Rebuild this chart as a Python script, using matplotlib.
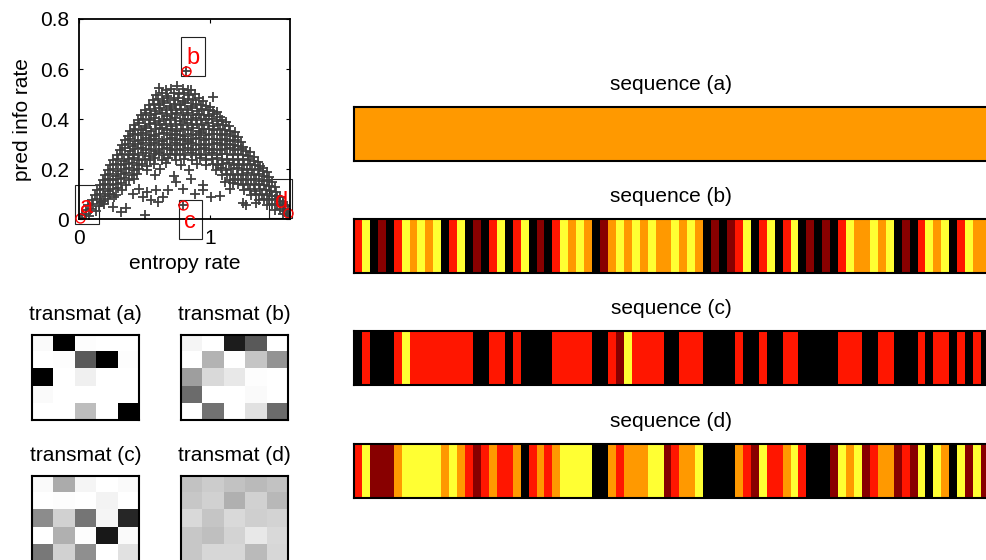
import matplotlib
matplotlib.use("Agg")
import matplotlib.pyplot as plt
import numpy as np
from matplotlib.colors import ListedColormap
from matplotlib.patches import Rectangle

plt.rcParams["font.family"] = ["Liberation Sans", "DejaVu Sans"]
plt.rcParams["font.size"] = 15

# --- scatter: (entropy rate, pred info rate) of sampled transition matrices
cloud = [
    (0.61, 0.524), (0.66, 0.515), (0.70, 0.522), (0.75, 0.531), (0.79, 0.519), (0.83, 0.515), (0.855, 0.517),
    (0.59, 0.497), (0.63, 0.503), (0.67, 0.494), (0.72, 0.506), (0.76, 0.499), (0.80, 0.505), (0.84, 0.497),
    (0.88, 0.501), (1.02, 0.49),
    (0.56, 0.476), (0.60, 0.482), (0.64, 0.473), (0.68, 0.484), (0.72, 0.478), (0.755, 0.485), (0.79, 0.474),
    (0.83, 0.481), (0.87, 0.477), (0.91, 0.483), (0.945, 0.474),
    (0.53, 0.455), (0.57, 0.462), (0.61, 0.457), (0.65, 0.465), (0.69, 0.452), (0.73, 0.461), (0.77, 0.456),
    (0.81, 0.463), (0.85, 0.454), (0.89, 0.46), (0.93, 0.457), (0.97, 0.452), (1.0, 0.448),
    (0.50, 0.436), (0.54, 0.442), (0.58, 0.433), (0.62, 0.444), (0.66, 0.437), (0.70, 0.443), (0.74, 0.435),
    (0.78, 0.441), (0.82, 0.438), (0.86, 0.445), (0.90, 0.434), (0.94, 0.44), (0.98, 0.436), (1.02, 0.432),
    (1.05, 0.428),
    (0.47, 0.418), (0.51, 0.424), (0.55, 0.415), (0.59, 0.421), (0.63, 0.426), (0.67, 0.414), (0.71, 0.42),
    (0.75, 0.425), (0.79, 0.417), (0.83, 0.423), (0.87, 0.416), (0.91, 0.422), (0.95, 0.418), (0.99, 0.414),
    (1.03, 0.42), (1.07, 0.41),
    (0.45, 0.395), (0.49, 0.402), (0.53, 0.398), (0.57, 0.404), (0.61, 0.393), (0.65, 0.401), (0.69, 0.396),
    (0.73, 0.403), (0.77, 0.394), (0.81, 0.4), (0.85, 0.397), (0.89, 0.404), (0.93, 0.395), (0.97, 0.399),
    (1.01, 0.402), (1.05, 0.393), (1.09, 0.398), (1.12, 0.39),
    (0.42, 0.376), (0.46, 0.383), (0.50, 0.374), (0.54, 0.38), (0.58, 0.385), (0.62, 0.377), (0.66, 0.382),
    (0.70, 0.373), (0.74, 0.381), (0.78, 0.378), (0.82, 0.384), (0.86, 0.375), (0.90, 0.38), (0.94, 0.377),
    (0.98, 0.383), (1.02, 0.374), (1.06, 0.38), (1.10, 0.376), (1.14, 0.372),
    (0.39, 0.354), (0.43, 0.361), (0.47, 0.357), (0.51, 0.363), (0.55, 0.352), (0.59, 0.359), (0.63, 0.365),
    (0.67, 0.356), (0.71, 0.362), (0.75, 0.353), (0.79, 0.36), (0.83, 0.357), (0.87, 0.363), (0.91, 0.354),
    (0.95, 0.359), (0.99, 0.362), (1.03, 0.355), (1.07, 0.36), (1.11, 0.357), (1.15, 0.352), (1.19, 0.35),
    (0.37, 0.334), (0.41, 0.341), (0.45, 0.336), (0.49, 0.343), (0.53, 0.337), (0.57, 0.332), (0.61, 0.34),
    (0.65, 0.345), (0.69, 0.335), (0.73, 0.342), (0.77, 0.338), (0.81, 0.333), (0.85, 0.341), (0.89, 0.337),
    (0.93, 0.344), (0.97, 0.335), (1.01, 0.339), (1.05, 0.342), (1.09, 0.336), (1.13, 0.34), (1.17, 0.334),
    (1.21, 0.33),
    (0.35, 0.315), (0.39, 0.321), (0.43, 0.312), (0.47, 0.318), (0.51, 0.324), (0.55, 0.316), (0.59, 0.322),
    (0.63, 0.313), (0.67, 0.319), (0.71, 0.325), (0.75, 0.317), (0.79, 0.321), (0.83, 0.314), (0.87, 0.32),
    (0.91, 0.323), (0.95, 0.315), (0.99, 0.319), (1.03, 0.322), (1.07, 0.316), (1.11, 0.32), (1.15, 0.314),
    (1.19, 0.318), (1.23, 0.31),
    (0.33, 0.296), (0.37, 0.302), (0.41, 0.294), (0.45, 0.3), (0.49, 0.305), (0.53, 0.297), (0.57, 0.303),
    (0.61, 0.295), (0.65, 0.301), (0.69, 0.298), (0.73, 0.304), (0.77, 0.296), (0.81, 0.3), (0.85, 0.306),
    (0.89, 0.297), (0.93, 0.302), (0.97, 0.295), (1.01, 0.299), (1.05, 0.303), (1.09, 0.296), (1.13, 0.301),
    (1.17, 0.297), (1.21, 0.294), (1.25, 0.29),
    (0.31, 0.276), (0.35, 0.283), (0.39, 0.274), (0.43, 0.28), (0.47, 0.285), (0.51, 0.277), (0.55, 0.282),
    (0.59, 0.274), (0.63, 0.279), (0.67, 0.284), (0.71, 0.276), (0.75, 0.281), (0.79, 0.277), (0.83, 0.283),
    (0.87, 0.275), (0.91, 0.28), (0.95, 0.284), (0.99, 0.277), (1.03, 0.281), (1.07, 0.275), (1.11, 0.279),
    (1.15, 0.283), (1.19, 0.276), (1.23, 0.28), (1.27, 0.274), (1.30, 0.27),
    (0.29, 0.256), (0.33, 0.262), (0.37, 0.255), (0.41, 0.261), (0.45, 0.257), (0.49, 0.263), (0.53, 0.254),
    (0.57, 0.26), (0.61, 0.265), (0.65, 0.257), (0.69, 0.261), (0.73, 0.255), (0.77, 0.262), (0.81, 0.258),
    (0.85, 0.264), (0.89, 0.256), (0.93, 0.26), (0.97, 0.257), (1.01, 0.263), (1.05, 0.255), (1.09, 0.259),
    (1.13, 0.262), (1.17, 0.256), (1.21, 0.26), (1.25, 0.257), (1.29, 0.253), (1.33, 0.25),
    (0.26, 0.236), (0.30, 0.242), (0.34, 0.234), (0.38, 0.24), (0.42, 0.245), (0.46, 0.237), (0.50, 0.241),
    (0.54, 0.235), (0.58, 0.243), (0.63, 0.238), (0.68, 0.244), (0.74, 0.236), (0.80, 0.241), (0.86, 0.237),
    (0.92, 0.243), (0.97, 0.235), (1.01, 0.24), (1.05, 0.244), (1.09, 0.236), (1.13, 0.241), (1.17, 0.238),
    (1.21, 0.242), (1.25, 0.235), (1.29, 0.239), (1.33, 0.234), (1.36, 0.23),
    (0.24, 0.216), (0.28, 0.222), (0.32, 0.215), (0.36, 0.221), (0.40, 0.225), (0.44, 0.217), (0.48, 0.222),
    (0.52, 0.214), (0.57, 0.219), (0.66, 0.224), (0.78, 0.216), (0.90, 0.221), (0.97, 0.217), (1.02, 0.222),
    (1.06, 0.215), (1.10, 0.22), (1.14, 0.224), (1.18, 0.216), (1.22, 0.221), (1.26, 0.217), (1.30, 0.222),
    (1.34, 0.215), (1.38, 0.212), (1.40, 0.205),
    (0.22, 0.196), (0.26, 0.202), (0.30, 0.194), (0.34, 0.2), (0.38, 0.205), (0.42, 0.197), (0.46, 0.202),
    (0.52, 0.195), (0.62, 0.2), (0.84, 0.196), (1.04, 0.198), (1.08, 0.203), (1.12, 0.195), (1.16, 0.2),
    (1.20, 0.204), (1.24, 0.196), (1.28, 0.201), (1.32, 0.197), (1.36, 0.2), (1.40, 0.194), (1.43, 0.19),
    (0.20, 0.176), (0.24, 0.182), (0.28, 0.174), (0.32, 0.18), (0.36, 0.185), (0.40, 0.177), (0.44, 0.181),
    (0.58, 0.178), (0.72, 0.172), (1.09, 0.176), (1.13, 0.182), (1.17, 0.175), (1.21, 0.18), (1.25, 0.177),
    (1.29, 0.183), (1.33, 0.176), (1.37, 0.181), (1.41, 0.174), (1.45, 0.17),
    (0.18, 0.156), (0.22, 0.162), (0.26, 0.155), (0.30, 0.16), (0.34, 0.164), (0.38, 0.157), (0.42, 0.16),
    (0.855, 0.16), (1.11, 0.15), (1.15, 0.158), (1.19, 0.162), (1.23, 0.155), (1.27, 0.16), (1.31, 0.157),
    (1.35, 0.162), (1.39, 0.154), (1.43, 0.158), (1.47, 0.15),
    (0.16, 0.136), (0.20, 0.142), (0.24, 0.135), (0.28, 0.14), (0.32, 0.143), (0.36, 0.137), (0.74, 0.15),
    (0.944, 0.137), (1.17, 0.145), (1.21, 0.14), (1.25, 0.136), (1.29, 0.142), (1.33, 0.135), (1.37, 0.14),
    (1.41, 0.137), (1.45, 0.132), (1.49, 0.128),
    (0.14, 0.116), (0.18, 0.122), (0.22, 0.115), (0.26, 0.12), (0.30, 0.123), (0.33, 0.116), (0.46, 0.12),
    (0.588, 0.117), (0.677, 0.117), (0.79, 0.12), (0.944, 0.117), (1.148, 0.12), (1.26, 0.118), (1.30, 0.122),
    (1.34, 0.115), (1.38, 0.12), (1.42, 0.116), (1.46, 0.112), (1.50, 0.11),
    (0.12, 0.096), (0.16, 0.102), (0.20, 0.095), (0.24, 0.1), (0.28, 0.097), (0.41, 0.10), (0.52, 0.11),
    (0.88, 0.10), (1.07, 0.095), (1.31, 0.098), (1.35, 0.102), (1.39, 0.096), (1.43, 0.1), (1.47, 0.094),
    (1.51, 0.092), (1.53, 0.088),
    (0.10, 0.076), (0.14, 0.082), (0.18, 0.075), (0.22, 0.08), (0.27, 0.09), (0.486, 0.09), (0.55, 0.077),
    (0.64, 0.09), (1.007, 0.09), (1.37, 0.078), (1.41, 0.082), (1.45, 0.076), (1.49, 0.08), (1.53, 0.074),
    (1.55, 0.07),
    (0.07, 0.056), (0.11, 0.062), (0.15, 0.055), (0.19, 0.06), (0.17, 0.07), (0.26, 0.05), (0.60, 0.07),
    (1.25, 0.064), (1.27, 0.057), (1.35, 0.064), (1.43, 0.058), (1.47, 0.062), (1.51, 0.056), (1.55, 0.06),
    (1.57, 0.052),
    (0.05, 0.036), (0.09, 0.042), (0.13, 0.035), (0.36, 0.044), (1.49, 0.038), (1.53, 0.042), (1.56, 0.035),
    (1.59, 0.04),
    (0.02, 0.016), (0.05, 0.022), (0.08, 0.015), (0.32, 0.03), (0.50, 0.017), (1.55, 0.022), (1.58, 0.016),
    (1.60, 0.012),
]

# highlighted examples a-d
pick_names = ["a", "b", "c", "d"]
pick_x = [0.008, 0.817, 0.79, 1.59]
pick_y = [0.005, 0.593, 0.056, 0.025]

# --- transition matrices (dark = high)
transmat_a = [
    [0.02, 1.00, 0.01, 0.00, 0.00],
    [0.00, 0.01, 0.65, 1.00, 0.01],
    [1.00, 0.00, 0.06, 0.00, 0.00],
    [0.02, 0.00, 0.00, 0.00, 0.00],
    [0.00, 0.00, 0.26, 0.00, 1.00],
]
transmat_b = [
    [0.04, 0.00, 0.89, 0.65, 0.00],
    [0.00, 0.30, 0.00, 0.23, 0.42],
    [0.38, 0.15, 0.09, 0.01, 0.00],
    [0.58, 0.00, 0.00, 0.02, 0.00],
    [0.00, 0.55, 0.00, 0.12, 0.58],
]
transmat_c = [
    [0.02, 0.33, 0.04, 0.00, 0.02],
    [0.00, 0.01, 0.00, 0.05, 0.00],
    [0.45, 0.18, 0.54, 0.04, 0.85],
    [0.00, 0.31, 0.01, 0.90, 0.02],
    [0.53, 0.18, 0.44, 0.00, 0.12],
]
transmat_d = [
    [0.24, 0.20, 0.24, 0.27, 0.24],
    [0.22, 0.18, 0.31, 0.18, 0.28],
    [0.15, 0.23, 0.15, 0.19, 0.17],
    [0.22, 0.25, 0.17, 0.09, 0.15],
    [0.22, 0.16, 0.16, 0.27, 0.16],
]

# --- sampled state sequences (0..4)
seq_a = [3] * 80
seq_b = [2, 4, 0, 1, 0, 2, 4, 3, 4, 3, 4, 0, 2, 4, 0, 1, 0, 2, 4, 0,
         2, 4, 0, 1, 0, 2, 4, 3, 4, 3, 0, 1, 3, 4, 3, 4, 3, 4, 3, 3,
         4, 3, 4, 3, 0, 1, 0, 1, 2, 4, 0, 2, 4, 0, 2, 4, 0, 1, 0, 1,
         0, 2, 4, 3, 3, 4, 3, 4, 0, 1, 0, 2, 4, 3, 4, 0, 2, 4, 3, 3]
seq_c = [0, 2, 0, 0, 0, 2, 4, 2, 2, 2, 2, 2, 2, 2, 2, 0, 0, 2, 2, 0,
         2, 0, 0, 0, 0, 2, 2, 2, 2, 2, 0, 0, 2, 1, 4, 2, 2, 2, 2, 0,
         0, 2, 2, 2, 0, 0, 0, 0, 2, 0, 0, 2, 0, 0, 2, 2, 0, 0, 0, 0,
         0, 2, 2, 2, 0, 0, 2, 2, 0, 0, 0, 2, 0, 2, 2, 0, 2, 0, 2, 0]
seq_d = [2, 4, 1, 1, 1, 3, 4, 4, 4, 4, 4, 3, 4, 3, 2, 1, 2, 3, 2, 2,
         3, 0, 2, 3, 2, 3, 4, 4, 4, 4, 0, 0, 3, 2, 3, 3, 3, 4, 4, 1,
         2, 3, 3, 4, 0, 0, 0, 0, 3, 2, 1, 4, 2, 2, 3, 4, 2, 0, 0, 0,
         1, 4, 3, 4, 1, 2, 3, 3, 1, 2, 1, 4, 0, 4, 3, 0, 4, 1, 4, 1]

state_colors = ["#000000", "#880000", "#ff1600", "#ff9900", "#ffff33"]

fig = plt.figure(figsize=(9.87, 5.6), dpi=100)

# scatter panel
ax = fig.add_axes([0.0800, 0.6084, 0.2143, 0.3577])
cx = [p[0] for p in cloud] + pick_x
cy = [p[1] for p in cloud] + pick_y
ax.plot(cx, cy, "+", color="#404040", ms=7.5, mew=1.3, ls="none")
ax.plot(pick_x, pick_y, "o", mfc="none", mec="red", ms=6.5, mew=1.0, ls="none", clip_on=False)
label_pos = [(0.055, 0.05), (0.868, 0.644), (0.842, -0.011), (1.542, 0.07)]
box_ll = [(-0.028, -0.02), (0.779, 0.573), (0.758, -0.08), (1.445, 0.004)]
for name, (tx, ty), (bx, by) in zip(pick_names, label_pos, box_ll):
    ax.text(tx, ty, name, color="red", fontsize=17, ha="center", va="center", clip_on=False)
    ax.add_patch(Rectangle((bx, by), 0.18, 0.156, fill=False, ec="#222222", lw=0.8, clip_on=False))
ax.set_xlim(0, 1.61)
ax.set_ylim(0, 0.8)
ax.set_xticks([0, 1])
ax.set_xticklabels(["0", "1"])
ax.set_yticks([0, 0.2, 0.4, 0.6, 0.8])
ax.set_yticklabels(["0", "0.2", "0.4", "0.6", "0.8"])
ax.tick_params(direction="in", top=True, right=True, length=3, width=0.8, pad=7)
ax.set_xlabel("entropy rate", labelpad=4)
ax.set_ylabel("pred info rate", labelpad=6)
for s in ax.spines.values():
    s.set_linewidth(1.3)

# transition matrices
tm_pos = [
    ("transmat (a)", transmat_a, [0.0324, 0.2500, 0.1084, 0.1518]),
    ("transmat (b)", transmat_b, [0.1834, 0.2500, 0.1084, 0.1518]),
    ("transmat (c)", transmat_c, [0.0324, -0.0018, 0.1084, 0.1518]),
    ("transmat (d)", transmat_d, [0.1834, -0.0018, 0.1084, 0.1518]),
]
for title, mat, pos in tm_pos:
    tax = fig.add_axes(pos)
    tax.imshow(np.array(mat), cmap="gray_r", vmin=0, vmax=1, aspect="auto", interpolation="nearest")
    tax.set_xticks([])
    tax.set_yticks([])
    tax.set_title(title, pad=11, fontsize=15)
    for s in tax.spines.values():
        s.set_linewidth(1.5)

# sequences
seq_cmap = ListedColormap(state_colors)
seq_rows = [
    ("sequence (a)", seq_a, 0.7125),
    ("sequence (b)", seq_b, 0.5125),
    ("sequence (c)", seq_c, 0.3125),
    ("sequence (d)", seq_d, 0.1107),
]
for title, seq, bottom in seq_rows:
    sax = fig.add_axes([0.3587, bottom, 0.6424, 0.0964])
    sax.imshow(np.array(seq)[None, :], cmap=seq_cmap, vmin=-0.5, vmax=4.5, aspect="auto", interpolation="nearest")
    sax.set_xticks([])
    sax.set_yticks([])
    sax.set_title(title, pad=12, fontsize=15)
    for s in sax.spines.values():
        s.set_linewidth(1.5)

fig.savefig("out.png", dpi=100, facecolor="white")
